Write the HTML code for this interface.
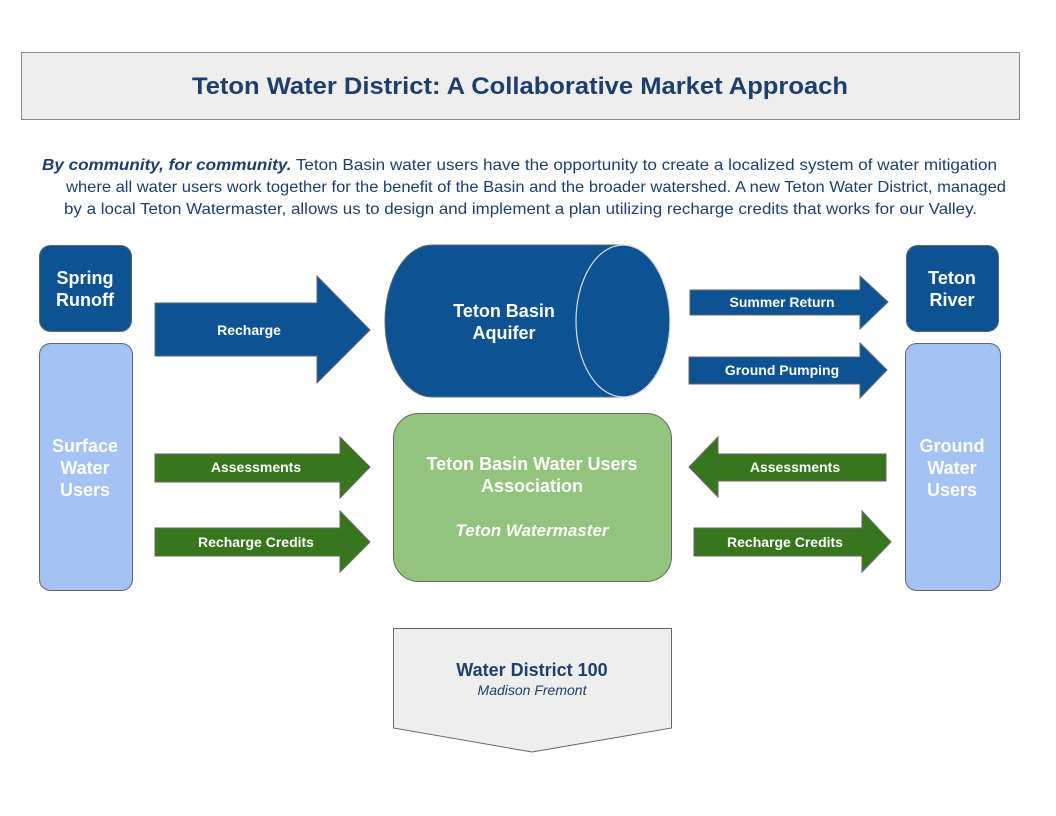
<!DOCTYPE html>
<html><head><meta charset="utf-8"><style>
html,body{margin:0;padding:0;background:#fff}
svg{display:block;font-family:"Liberation Sans",sans-serif}
</style></head><body>
<svg width="1056" height="816" viewBox="0 0 1056 816">
<rect x="21.5" y="52.5" width="998" height="67" fill="#eeeeee" stroke="#888" stroke-width="1"/>
<text x="520" y="94" text-anchor="middle" font-size="24" font-weight="bold" fill="#1c3f6e" textLength="656" lengthAdjust="spacingAndGlyphs">Teton Water District: A Collaborative Market Approach</text>
<g font-size="16" fill="#1c3f6e">
<text x="42" y="170" textLength="955" lengthAdjust="spacingAndGlyphs"><tspan font-weight="bold" font-style="italic">By community, for community.</tspan> Teton Basin water users have the opportunity to create a localized system of water mitigation</text>
<text x="66" y="192" textLength="940" lengthAdjust="spacingAndGlyphs">where all water users work together for the benefit of the Basin and the broader watershed. A new Teton Water District, managed</text>
<text x="64" y="214" textLength="913" lengthAdjust="spacingAndGlyphs">by a local Teton Watermaster, allows us to design and implement a plan utilizing recharge credits that works for our Valley.</text>
</g>
<g stroke="#666" stroke-width="1">
<rect x="39.5" y="245.5" width="92" height="86" rx="11" fill="#0d5394"/>
<rect x="39.5" y="343.5" width="93" height="247" rx="11" fill="#a4c2f4"/>
<rect x="906.5" y="245.5" width="92" height="86" rx="11" fill="#0d5394"/>
<rect x="905.5" y="343.5" width="95" height="247" rx="11" fill="#a4c2f4"/>
<polygon points="155,303 317,303 317,276 370,330 317,383 317,356 155,356" fill="#0d5394"/>
<polygon points="690,290 860,290 860,276 888,302 860,329 860,315 690,315" fill="#0d5394"/>
<polygon points="689,357 860,357 860,343 887,370 860,398 860,384 689,384" fill="#0d5394"/>
<path d="M432,245 L623,245 A47,76 0 0 1 623,397 L432,397 A47,76 0 0 1 432,245 Z" fill="#0d5394"/>
<rect x="393.5" y="413.5" width="278" height="168" rx="25" fill="#93c47d"/>
<polygon points="155,454 340,454 340,437 370,467 340,498 340,482 155,482" fill="#38761d"/>
<polygon points="155,528 340,528 340,511 370,542 340,572 340,556 155,556" fill="#38761d"/>
<polygon points="886,454 718,454 718,437 689,467 718,497 718,481 886,481" fill="#38761d"/>
<polygon points="694,528 862,528 862,511 891,542 862,572 862,556 694,556" fill="#38761d"/>
<polygon points="393.5,628.5 671.5,628.5 671.5,728 532,752 393.5,728" fill="#eeeeee"/>
</g>
<ellipse cx="623" cy="321" rx="47" ry="76" fill="none" stroke="#ddd" stroke-width="1.2"/>
<g font-weight="bold" text-anchor="middle" fill="#fff">
<text x="85" y="284" font-size="18">Spring</text><text x="85" y="306" font-size="18">Runoff</text>
<text x="952" y="284" font-size="18">Teton</text><text x="952" y="306" font-size="18">River</text>
<text x="85" y="452" font-size="18">Surface</text><text x="85" y="474" font-size="18">Water</text><text x="85" y="496" font-size="18">Users</text>
<text x="952" y="452" font-size="18">Ground</text><text x="952" y="474" font-size="18">Water</text><text x="952" y="496" font-size="18">Users</text>
<text x="504" y="317" font-size="18">Teton Basin</text><text x="504" y="339" font-size="18">Aquifer</text>
<text x="249" y="335" font-size="14">Recharge</text>
<text x="782" y="307" font-size="14">Summer Return</text>
<text x="782" y="375" font-size="14">Ground Pumping</text>
<text x="256" y="472" font-size="14">Assessments</text>
<text x="256" y="547" font-size="14">Recharge Credits</text>
<text x="795" y="472" font-size="14">Assessments</text>
<text x="785" y="547" font-size="14">Recharge Credits</text>
<text x="532" y="470" font-size="18">Teton Basin Water Users</text>
<text x="532" y="492" font-size="18">Association</text>
<text x="532" y="536" font-size="17" font-style="italic">Teton Watermaster</text>
</g>
<text x="532" y="676" text-anchor="middle" font-size="18" font-weight="bold" fill="#1c3f6e">Water District 100</text>
<text x="532" y="695" text-anchor="middle" font-size="14" font-style="italic" fill="#1c3f6e">Madison Fremont</text>
</svg>
</body></html>
